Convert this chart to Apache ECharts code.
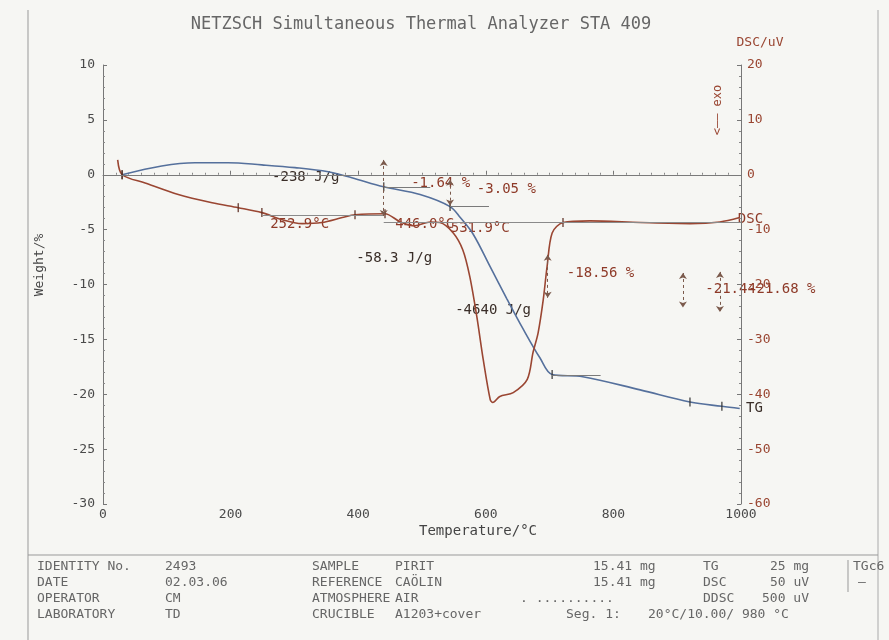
<!DOCTYPE html>
<html><head><meta charset="utf-8">
<script src="https://cdn.jsdelivr.net/npm/echarts@6/dist/echarts.min.js"></script>
<style>html,body{margin:0;padding:0;background:#f6f6f3}#c{width:889px;height:640px}</style>
</head><body><div id="c"></div><script>
// ---- data ----
const tgTemp = [30, 92, 144, 196, 249, 301, 353, 390, 440, 497, 544, 560, 580, 607, 633, 658, 685, 704, 752, 842, 920, 970, 998];
const tgWeight = [0, 0.8, 1.1, 1.1, 0.9, 0.65, 0.27, -0.27, -1.1, -1.8, -2.9, -3.9, -5.4, -8.4, -11.3, -14.0, -16.7, -18.2, -18.4, -19.6, -20.7, -21.1, -21.3];
const dscTemp = [23, 30, 66, 118, 171, 212, 249, 281, 312, 343, 375, 395, 442, 466, 489, 513, 528, 549, 564, 575, 586, 596, 607, 611, 622, 643, 665, 674, 682, 690, 696, 704, 721, 763, 842, 920, 967, 998];
const dscSignal = [2.7, 0, -1.5, -3.6, -5.1, -6.0, -6.9, -8.2, -8.9, -8.7, -7.8, -7.3, -7.1, -8.6, -9.3, -8.6, -8.7, -10.6, -13.7, -18.6, -25.9, -33.7, -41.0, -41.5, -40.4, -39.7, -37.3, -32.4, -28.8, -22.8, -16.8, -10.6, -8.7, -8.4, -8.7, -8.9, -8.6, -7.8];
const tgMarkTemps = [30, 440, 544, 704, 920, 970];
const dscMarkTemps = [30, 212, 249, 395, 442, 721];
const xTicks = {min: 0, max: 1000, step: 200};
const weightTicks = {min: -30, max: 10, step: 5};
const dscTicks = {min: -60, max: 20, step: 10};
// annotation texts: [temperature, DSC value, text, kind]
const notes = [
  [265, -0.5, '-238 J/g', 'k'],
  [483, -1.6, '-1.64 %', 'r'],
  [586, -2.6, '-3.05 %', 'r'],
  [262, -9.1, '252.9°C', 'r'],
  [458, -9.1, '446.0°C', 'r'],
  [545, -9.8, '531.9°C', 'r'],
  [397, -15.3, '-58.3 J/g', 'k'],
  [552, -24.8, '-4640 J/g', 'k'],
  [727, -18.0, '-18.56 %', 'r'],
  [944, -20.9, '-21.44', 'r'],
  [1011, -20.9, '-21.68 %', 'r'],
  [995, -8.2, 'DSC', 'r'],
  [1008, -42.6, 'TG', 'k']
];
// step brackets: [temperature, DSC from, DSC to]
const brackets = [[440, 2.7, -7.5], [544, -0.9, -5.6], [697, -14.6, -22.4], [909, -17.9, -24.2], [967, -17.7, -25.0]];
// DSC baselines: [T from, T to, DSC value]
const dscBaselines = [[250, 440, -7.3], [440, 1000, -8.6]];
// TG tangents: [T from, T to, weight]
const tgLines = [[20, 1000, 0], [440, 513, -1.1], [544, 605, -2.9], [704, 780, -18.3]];

const table = [
  [['IDENTITY No.', 37], ['2493', 165], ['SAMPLE', 312], ['PIRIT', 395], ['15.41 mg', 593], ['TG', 703], ['25 mg', 770], ['TGc6', 853]],
  [['DATE', 37], ['02.03.06', 165], ['REFERENCE', 312], ['CAÖLIN', 395], ['15.41 mg', 593], ['DSC', 703], ['50 uV', 770], ['—', 858]],
  [['OPERATOR', 37], ['CM', 165], ['ATMOSPHERE', 312], ['AIR', 395], ['. ..........', 520], ['DDSC', 703], ['500 uV', 762]],
  [['LABORATORY', 37], ['TD', 165], ['CRUCIBLE', 312], ['A1203+cover', 395], ['Seg. 1:', 566], ['20°C/10.00/ 980 °C', 648]]
];

const mono = 'DejaVu Sans Mono';
const BLUE = '#55709c', RED = '#9a4632', GRAY = '#8a8a8a', TXT = '#4a4a4a';
const chart = echarts.init(document.getElementById('c'));

const axisCommon = (color) => ({
  type: 'value',
  axisLine: {show: true, lineStyle: {color: '#777', width: 1}},
  axisTick: {show: true, inside: true, length: 4, lineStyle: {color: '#777'}},
  minorTick: {show: true, splitNumber: 5, length: 2, lineStyle: {color: '#888'}},
  splitLine: {show: false},
  axisLabel: {color: color, fontFamily: mono, fontSize: 13, formatter: v => String(v)}
});

const xa = axisCommon(TXT);
xa.min = xTicks.min; xa.max = xTicks.max; xa.interval = xTicks.step;
xa.minorTick.splitNumber = 10; xa.axisLabel.margin = 4;
const ya = axisCommon(TXT);
ya.min = weightTicks.min; ya.max = weightTicks.max; ya.interval = weightTicks.step; ya.axisLabel.margin = 8;
const yb = axisCommon(RED);
yb.min = dscTicks.min; yb.max = dscTicks.max; yb.interval = dscTicks.step; yb.position = 'right'; yb.axisLabel.margin = 6;

const tgPairs = tgTemp.map((t, i) => [t, tgWeight[i]]);
const dscPairs = dscTemp.map((t, i) => [t, dscSignal[i]]);
const pick = (temps, pairs) => temps.map(t => pairs.find(p => p[0] === t)).filter(Boolean);

const bracketLines = brackets.map(b => [
  {coord: [b[0], b[1]], symbol: 'arrow', symbolSize: 6, lineStyle: {type: [3, 3], color: '#7b5a4c', width: 1}},
  {coord: [b[0], b[2]], symbol: 'arrow', symbolSize: 6}
]);
const dscBase = dscBaselines.map(b => [
  {coord: [b[0], b[2]], lineStyle: {type: 'solid', color: GRAY, width: 1}}, {coord: [b[1], b[2]]}
]);
const tgBase = tgLines.map(b => [
  {coord: [b[0], b[2]], lineStyle: {type: 'solid', color: '#7a7a7a', width: 1}}, {coord: [b[1], b[2]]}
]);

chart.setOption({
  backgroundColor: '#f6f6f3',
  animation: false,
  grid: {left: 103, right: 148, top: 65, bottom: 136},
  xAxis: xa,
  yAxis: [ya, yb],
  series: [
    {type: 'line', yAxisIndex: 0, data: tgPairs, smooth: 0.35, showSymbol: false,
     lineStyle: {color: BLUE, width: 1.6}, z: 3,
     markLine: {silent: true, symbol: 'none', label: {show: false}, data: tgBase}},
    {type: 'line', yAxisIndex: 1, data: dscPairs, smooth: 0.3, showSymbol: false,
     lineStyle: {color: RED, width: 1.6}, z: 3,
     markLine: {silent: true, symbol: 'none', label: {show: false}, data: dscBase.concat(bracketLines)}},
    {type: 'scatter', yAxisIndex: 0, data: pick(tgMarkTemps, tgPairs), symbol: 'rect', symbolSize: [1.5, 9],
     itemStyle: {color: '#333'}, z: 4},
    {type: 'scatter', yAxisIndex: 1, data: pick(dscMarkTemps, dscPairs), symbol: 'rect', symbolSize: [1.5, 9],
     itemStyle: {color: '#5a2a1e'}, z: 4}
  ]
});

const g = [];
const txt = (x, y, text, opt = {}) => g.push(Object.assign({
  type: 'text', x: x, y: y,
  style: Object.assign({text: text, fill: TXT, font: '13px ' + mono, textVerticalAlign: 'middle'}, opt.style || {})
}, opt.el || {}));

// frame
g.push({type: 'line', shape: {x1: 28, y1: 10, x2: 28, y2: 640}, style: {stroke: '#999', lineWidth: 1}});
g.push({type: 'line', shape: {x1: 878, y1: 10, x2: 878, y2: 640}, style: {stroke: '#aaa', lineWidth: 1}});
g.push({type: 'line', shape: {x1: 28, y1: 555, x2: 878, y2: 555}, style: {stroke: '#999', lineWidth: 1}});
g.push({type: 'line', shape: {x1: 848, y1: 560, x2: 848, y2: 592}, style: {stroke: '#999', lineWidth: 1}});

txt(421, 25, 'NETZSCH Simultaneous Thermal Analyzer STA 409', {style: {font: '17px ' + mono, fill: '#666', textAlign: 'center'}});
txt(760, 43, 'DSC/uV', {style: {fill: RED, textAlign: 'center'}});
txt(478, 531, 'Temperature/°C', {style: {font: '14px ' + mono, fill: '#444', textAlign: 'center'}});
txt(40, 265, 'Weight/%', {style: {fill: '#444', textAlign: 'center'}, el: {rotation: Math.PI / 2}});
txt(718, 110, '<—— exo', {style: {fill: RED, textAlign: 'center', font: '12px ' + mono}, el: {rotation: Math.PI / 2}});

notes.forEach(n => {
  const p = chart.convertToPixel({xAxisIndex: 0, yAxisIndex: 1}, [n[0], n[1]]);
  txt(p[0], p[1], n[2], {style: {fill: n[3] === 'r' ? '#8e3a28' : '#3a2e28', font: '14px ' + mono}});
});

const rowY = [567, 583, 599, 615];
table.forEach((row, r) => row.forEach(c => txt(c[1], rowY[r], c[0], {style: {fill: '#666', font: '13px ' + mono}})));

chart.setOption({graphic: g});
</script></body></html>
